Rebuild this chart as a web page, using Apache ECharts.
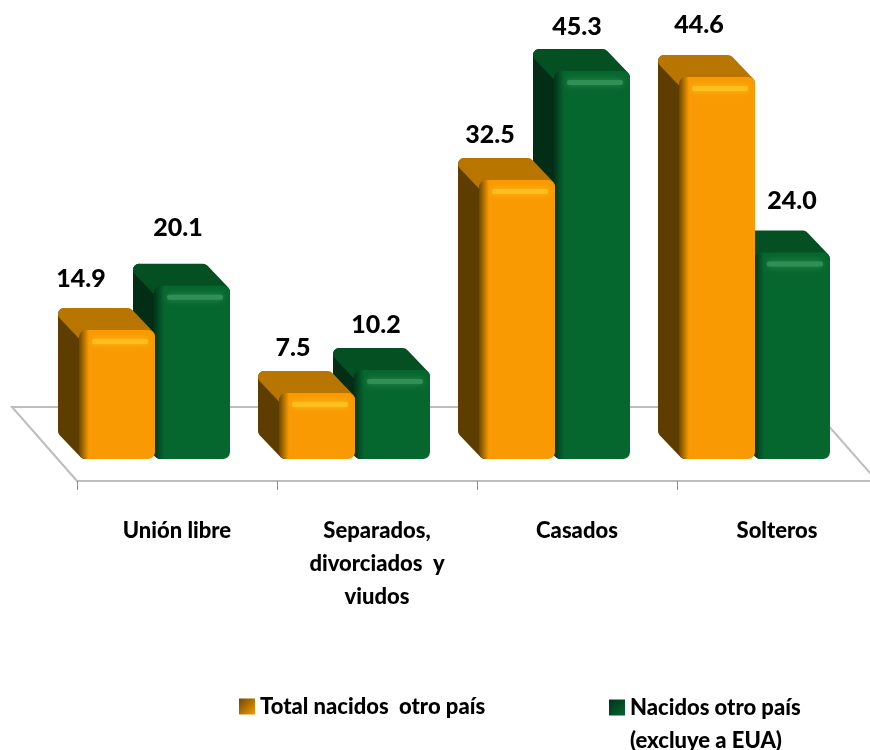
<!DOCTYPE html>
<html>
<head>
<meta charset="utf-8">
<style>
  html, body { margin: 0; padding: 0; background: #fff; }
  #chart { width: 870px; height: 750px; }
</style>
<script src="https://cdn.jsdelivr.net/npm/echarts@6/dist/echarts.min.js"></script>
</head>
<body>
<div id="chart"></div>
<script>
var categories = ['Unión libre', 'Separados,\ndivorciados  y\nviudos', 'Casados', 'Solteros'];
var totalNacidos = [14.9, 7.5, 32.5, 44.6];
var nacidosOtro = [20.1, 10.2, 45.3, 24.0];
var nameTotal = 'Total nacidos  otro país';
var nameOtro = 'Nacidos otro país\n(excluye a EUA)';

var FONT = 'Lato, "Open Sans", sans-serif';
var DX = -21, DY = -22;   // profundidad de las barras

var orange = { front: '#f99a02', edge: '#6e4800', top: '#b87600', side: '#5e3e00', light: '#ffbf1c' };
var green = { front: '#05662e', edge: '#02321a', top: '#045023', side: '#032d14', light: '#2f8f55' };

// ajuste de las etiquetas respecto a la cara frontal
var totalNudge = [[-36, -51], [-24, -45], [-27, -45], [-18, -52]];
var otroNudge = [[-14, -58], [-16, -45], [-15, -44], [0, -52]];

function barItem(c, start, nudge) {
  return function (params, api) {
    var idx = api.value(0);
    var val = api.value(1);
    var top = api.coord([idx, val]);
    var base = api.coord([idx, 0]);
    var w = 76;
    var x = top[0] + start;
    var y = top[1];
    var b = base[1] + 2;
    var h = b - y;
    var r = 6;
    var n = nudge[idx];
    return {
      type: 'group',
      children: [
        { // cara lateral
          type: 'polygon',
          shape: { points: [[x + r, y + r], [x + DX + r, y + DY + r], [x + DX + r, b + DY - r], [x + r, b - r]] },
          style: { fill: c.side, stroke: c.side, lineWidth: r * 2, lineJoin: 'round' }
        },
        { // cara superior
          type: 'polygon',
          shape: { points: [[x + r, y + r], [x + DX + r, y + DY + r], [x + w + DX - r, y + DY + r], [x + w - r, y + r]] },
          style: { fill: c.top, stroke: c.top, lineWidth: r * 2, lineJoin: 'round' }
        },
        { // cara frontal
          type: 'rect',
          shape: { x: x, y: y, width: w, height: h, r: 7 },
          style: {
            fill: {
              type: 'linear', x: 0, y: 0, x2: 1, y2: 0,
              colorStops: [
                { offset: 0, color: c.edge },
                { offset: 0.13, color: c.front },
                { offset: 1, color: c.front }
              ]
            }
          }
        },
        { // brillo
          type: 'rect',
          shape: { x: x + 13, y: y + 9, width: w - 20, height: 5, r: 2 },
          style: { fill: c.light, shadowColor: c.light, shadowBlur: 6 }
        },
        {
          type: 'text',
          x: x + w / 2 + n[0],
          y: y + n[1],
          style: {
            text: val.toFixed(1),
            fill: '#000',
            font: '900 25px ' + FONT,
            align: 'center',
            verticalAlign: 'middle'
          }
        }
      ]
    };
  };
}

function floorItem(params) {
  var g = params.coordSys;
  var front = g.y + g.height + 24;
  var back = front - 74;
  var right = g.x + g.width;
  return {
    type: 'polyline',
    shape: { points: [[g.x, front], [g.x - 65, back], [right - 65, back], [right, front]] },
    style: { fill: null, stroke: '#bdbdbd', lineWidth: 2 }
  };
}

function pairs(values) {
  return values.map(function (v, i) { return [i, v]; });
}

function legendIcon(dark, mid) {
  return {
    type: 'linear', x: 0, y: 0, x2: 1, y2: 1,
    colorStops: [{ offset: 0, color: dark }, { offset: 1, color: mid }]
  };
}

var labelText = { color: '#000', fontFamily: 'Lato', fontWeight: 900, fontSize: 22, lineHeight: 33 };

var chart = echarts.init(document.getElementById('chart'));
chart.setOption({
  animation: false,
  backgroundColor: '#fff',
  grid: { left: 77, top: 31, width: 800, height: 426, outerBoundsMode: 'none' },
  xAxis: {
    type: 'category',
    data: categories,
    offset: 24,
    axisLine: { onZero: false, lineStyle: { color: '#bdbdbd', width: 2 } },
    axisTick: { show: true, length: 9, lineStyle: { color: '#8c8c8c', width: 1 } },
    axisLabel: Object.assign({ interval: 0, margin: 33 }, labelText)
  },
  yAxis: { type: 'value', min: 0, max: 50, show: false },
  legend: [
    {
      data: [nameTotal], left: 234, top: 685, itemWidth: 16, itemHeight: 16, itemGap: 6,
      icon: 'rect',
      textStyle: labelText
    },
    {
      data: [nameOtro], left: 604, top: 653, itemWidth: 16, itemHeight: 16, itemGap: 6,
      icon: 'rect',
      formatter: function (name) { return '\n' + name; },
      textStyle: labelText
    }
  ],
  series: [
    {
      type: 'custom', name: 'floor', silent: true, z: 1,
      data: [[0, 0]], renderItem: floorItem
    },
    {
      type: 'custom', name: nameOtro, z: 2,
      itemStyle: { color: legendIcon(green.edge, green.front) },
      encode: { x: 0, y: 1 },
      data: pairs(nacidosOtro), renderItem: barItem(green, -23, otroNudge)
    },
    {
      type: 'custom', name: nameTotal, z: 3,
      itemStyle: { color: legendIcon(orange.edge, orange.front) },
      encode: { x: 0, y: 1 },
      data: pairs(totalNacidos), renderItem: barItem(orange, -98, totalNudge)
    }
  ]
});
</script>
</body>
</html>
